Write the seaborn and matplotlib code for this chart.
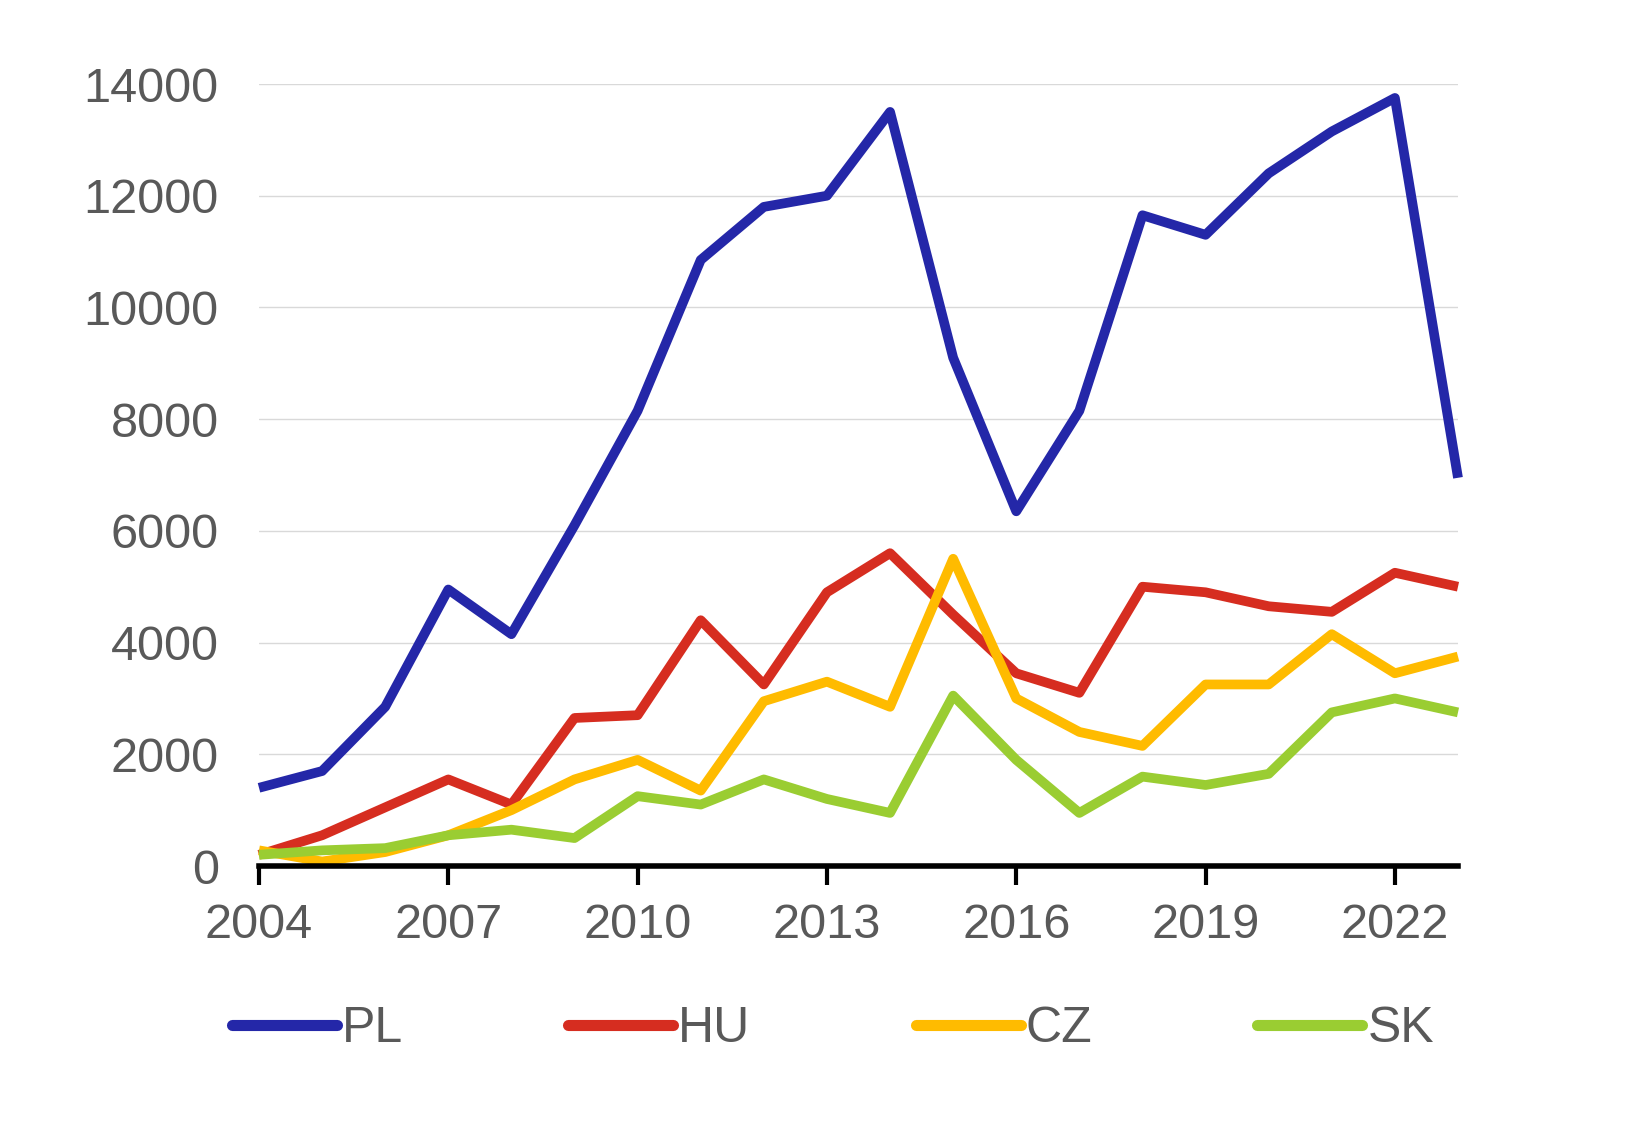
import pandas as pd
import seaborn as sns
import matplotlib.pyplot as plt

sns.set_theme(style="white")
plt.rcParams['font.family'] = ['Liberation Sans', 'DejaVu Sans']

# datos
years = list(range(2004, 2024))
pl = [1400, 1700, 2850, 4950, 4150, 6100, 8150, 10850, 11800, 12000,
      13500, 9100, 6350, 8150, 11650, 11300, 12400, 13150, 13750, 6950]
hu = [200, 550, 1050, 1550, 1100, 2650, 2700, 4400, 3250, 4900,
      5600, 4500, 3450, 3100, 5000, 4900, 4650, 4550, 5250, 5000]
cz = [280, 80, 250, 550, 1000, 1550, 1900, 1350, 2950, 3300,
      2850, 5500, 3000, 2400, 2150, 3250, 3250, 4150, 3450, 3750]
sk = [200, 280, 320, 550, 650, 500, 1250, 1100, 1550, 1200,
      950, 3050, 1900, 950, 1600, 1450, 1650, 2750, 3000, 2750]
countries = ['PL', 'HU', 'CZ', 'SK']
colors = ['#2427A8', '#D62D20', '#FFBB00', '#9ACD32']
xticks = list(range(2004, 2023, 3))
yticks = list(range(0, 14001, 2000))

df = pd.DataFrame({'year': years, 'PL': pl, 'HU': hu, 'CZ': cz, 'SK': sk})
df = df.melt(id_vars='year', var_name='country', value_name='value')

fig = plt.figure(figsize=(16.27, 11.25), dpi=100)
ax = fig.add_axes([259 / 1627, 1 - 866 / 1125, (1458 - 259) / 1627, (866 - 84) / 1125])

sns.lineplot(data=df, x='year', y='value', hue='country', hue_order=countries,
             palette=colors, linewidth=7, ax=ax, legend=False, clip_on=False)
for ln in ax.lines:
    ln.set_solid_joinstyle('round')
    ln.set_solid_capstyle('butt')

ax.set_xlim(2004, 2023)
ax.set_ylim(0, 14000)
ax.set_xticks(xticks)
ax.set_yticks(yticks)
ax.set_xlabel('')
ax.set_ylabel('')
ax.grid(axis='y', color='#D9D9D9', linewidth=1)
ax.set_axisbelow(True)
for s in ['top', 'right', 'left']:
    ax.spines[s].set_visible(False)
ax.spines['bottom'].set_color('black')
ax.spines['bottom'].set_linewidth(4)
ax.spines['bottom'].set_zorder(5)
ax.tick_params(axis='x', bottom=True, direction='out', length=14, width=3,
               color='black', labelsize=35, labelcolor='#595959', pad=13)
ax.tick_params(axis='y', left=False, labelsize=35, labelcolor='#595959', pad=23)

handles = [plt.Line2D([], [], color=c, linewidth=8, solid_capstyle='round') for c in colors]
fig.legend(handles, countries, loc='center', bbox_to_anchor=(0.512, 1 - 1029 / 1125),
           ncol=4, frameon=False, handlelength=2.1, handletextpad=0.1,
           columnspacing=3.3, prop={'family': ['Liberation Sans Narrow', 'Liberation Sans'], 'size': 36},
           labelcolor='#595959')

fig.savefig('out.png', dpi=100)
